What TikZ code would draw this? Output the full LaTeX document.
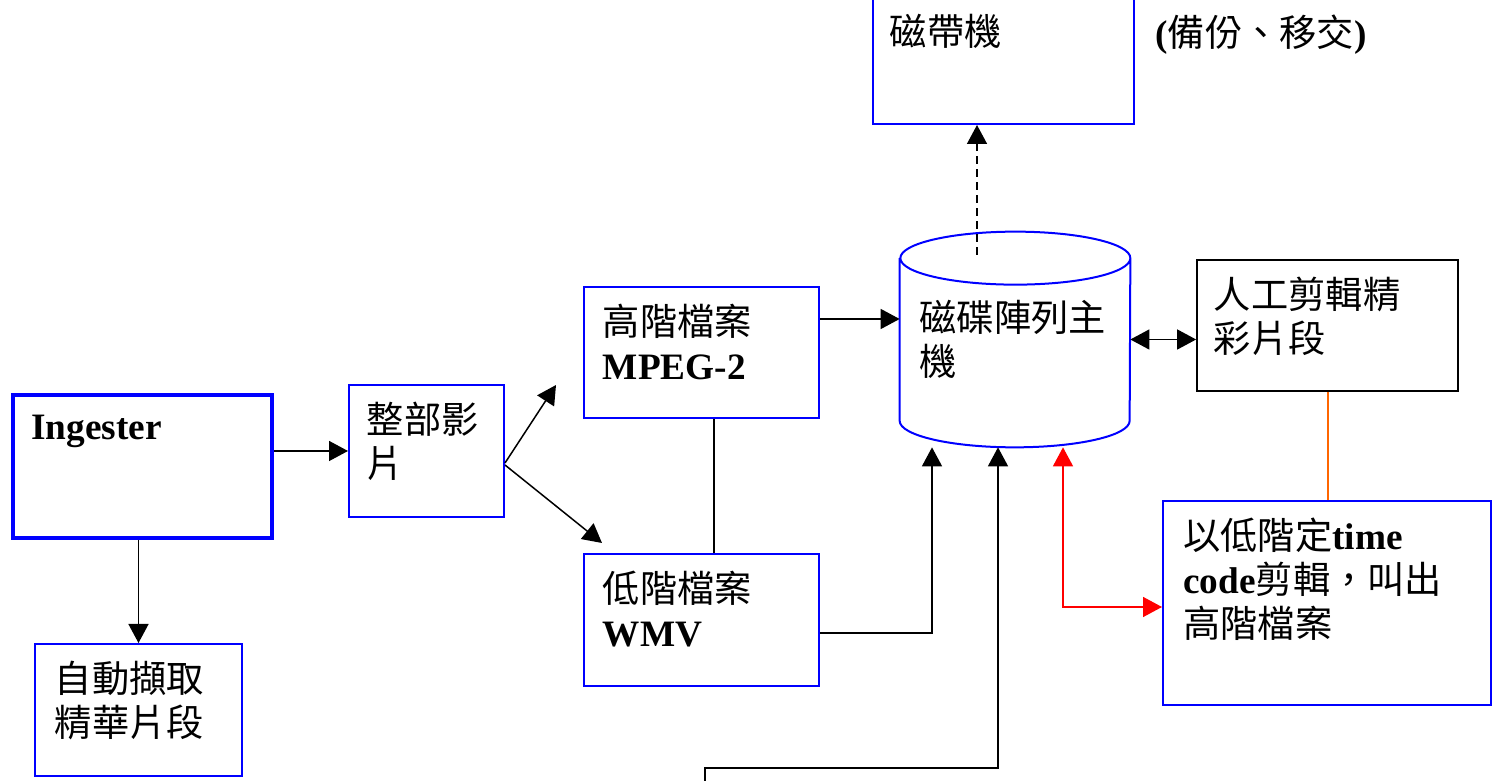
\documentclass[tikz,border=0pt]{standalone}
\usepackage{fontspec}
\setmainfont{Liberation Serif}
\newfontfamily\cjk{Noto Sans CJK TC}
\usetikzlibrary{arrows.meta,positioning}
\definecolor{orangeline}{RGB}{255,102,0}
\newcommand{\entxt}[1]{{\rmfamily\bfseries #1}}
\tikzset{
	bluebox/.style={shape=rectangle,draw=blue,line width=0.04cm,inner sep=0pt},
	blackbox/.style={shape=rectangle,draw=black,line width=0.035cm,inner sep=0pt},
	boxtext/.style={anchor=north west,inner sep=0pt,align=left,font=\cjk\fontsize{21.2pt}{25pt}\selectfont},
	arr/.style={-{Triangle[length=0.38cm,width=0.4cm]},line width=0.03cm},
	biarr/.style={{Triangle[length=0.38cm,width=0.4cm]}-{Triangle[length=0.38cm,width=0.4cm]},line width=0.03cm}
}
\begin{document}
\begin{tikzpicture}
	\useasboundingbox (0,0) rectangle (29.9,15.62);

	\node[bluebox,line width=0.08cm,minimum width=5.18cm,minimum height=2.86cm] (ingest) at (2.85, 6.29) {};
	\node[bluebox,minimum width=4.14cm,minimum height=2.64cm] (auto)   at (2.77, 1.42)  {};
	\node[bluebox,minimum width=3.1cm,minimum height=2.64cm]  (whole)  at (8.53, 6.6)   {};
	\node[bluebox,minimum width=4.7cm,minimum height=2.62cm]  (hifile) at (14.03, 8.57) {};
	\node[bluebox,minimum width=4.7cm,minimum height=2.64cm]  (lofile) at (14.03, 3.22) {};
	\node[bluebox,minimum width=5.22cm,minimum height=2.58cm] (tape)   at (20.07, 14.43) {};
	\node[shape=rectangle,inner sep=0pt,minimum width=4.6cm,minimum height=4.3cm] (disk) at (20.3, 8.83) {};
	\node[blackbox,minimum width=5.22cm,minimum height=2.62cm] (edit) at (26.55, 9.11) {};
	\node[bluebox,minimum width=6.56cm,minimum height=4.08cm]  (cut)  at (26.54, 3.56) {};

	% disk array drawn as a cylinder
	\draw[blue,line width=0.04cm] ([yshift=-0.53cm]disk.north west) -- ([yshift=0.53cm]disk.south west)
		arc[start angle=180,end angle=360,x radius=2.3cm,y radius=0.53cm]
		-- ([yshift=-0.53cm]disk.north east)
		arc[start angle=0,end angle=360,x radius=2.3cm,y radius=0.53cm];

	\node[boxtext,below right=0.44cm and 0.4cm of ingest.north west] (ingest-t) {\entxt{Ingester}};
	\node[boxtext,below right=0.36cm and 0.41cm of auto.north west]   (auto-t)   {自動擷取\\精華片段};
	\node[boxtext,below right=0.36cm and 0.37cm of whole.north west]  (whole-t)  {整部影\\片};
	\node[boxtext,below right=0.36cm and 0.39cm of hifile.north west] (hifile-t) {高階檔案\\\entxt{MPEG-2}};
	\node[boxtext,below right=0.36cm and 0.39cm of lofile.north west] (lofile-t) {低階檔案\\\entxt{WMV}};
	\node[boxtext,below right=0.4cm and 0.35cm of tape.north west]    (tape-t)   {磁帶機};
	\node[boxtext] (note) at (23.1, 15.32) {\entxt{(}備份、移交\entxt{)}};
	\node[boxtext,below right=1.36cm and 0.39cm of disk.north west]   (disk-t)   {磁碟陣列主\\機};
	\node[boxtext,below right=0.36cm and 0.35cm of edit.north west]   (edit-t)   {人工剪輯精\\彩片段};
	\node[boxtext,below right=0.36cm and 0.42cm of cut.north west]    (cut-t)
		{以低階定\entxt{time}\\\entxt{code}剪輯，叫出\\高階檔案};

	\coordinate (src) at (14.1, -0.18);

	\draw[arr] (ingest.east |- whole.west) -- (whole.west);
	\draw[arr] (auto.north |- ingest.south) -- (auto.north);
	\draw[arr] ([yshift=-0.24cm]whole.east) -- ([xshift=-0.54cm,yshift=-0.65cm]hifile.west);
	\draw[arr] ([yshift=-0.28cm]whole.east) -- ([xshift=0.38cm,yshift=0.2cm]lofile.north west);
	\draw[arr] ([yshift=0.67cm]hifile.east) -- ([yshift=0.67cm]hifile.east -| disk.west);
	\draw[line width=0.03cm] ([xshift=0.25cm]hifile.south) -- ([xshift=0.25cm]lofile.north);
	\draw[arr] ([yshift=-0.26cm]lofile.east) -| ([xshift=-1.66cm]disk.south);
	\draw[arr] (src) -- ++(0,0.44) -| ([xshift=-0.34cm]disk.south);
	\draw[biarr,red] ([xshift=0.96cm]disk.south) |- ([yshift=-0.08cm]cut.west);
	\draw[biarr] (disk.east) -- (disk.east -| edit.west);
	\draw[arr,dash pattern=on 0.16cm off 0.1cm] ([xshift=-0.76cm,yshift=-0.46cm]disk.north) -- ([xshift=-0.76cm]disk.north |- tape.south);
	\draw[draw=orangeline,line width=0.04cm] (edit.south) -- (edit.south |- cut.north);
\end{tikzpicture}
\end{document}
